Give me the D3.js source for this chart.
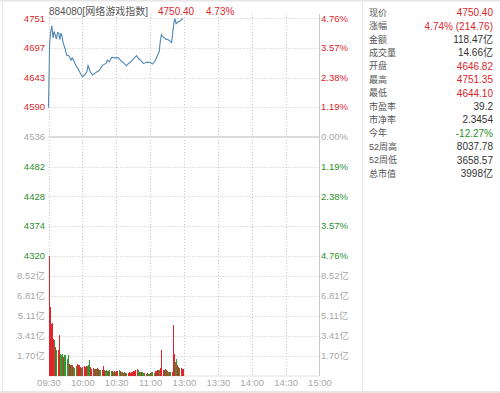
<!DOCTYPE html>
<html><head><meta charset="utf-8">
<script src="https://cdn.jsdelivr.net/npm/d3@7/dist/d3.min.js"></script>
<style>body{margin:0;background:#fff;}svg{display:block;font-family:"Liberation Sans","Noto Sans CJK SC",sans-serif;}</style>
</head><body>
<svg id="c" width="500" height="393"></svg>
<script>
const prevClose = 4535.64;
const priceHalfRange = 215.71;
const priceMinutes = [0,1,2,3,4,5,7,8,9,10,11,12,13,15,16,18,19,20,21,23,24,26,28,30,32,34,35,37,39,41,43,45,47,48,51,52,54,56,59,62,65,67,69,71,73,75,78,80,82,84,87,90,92,94,96,98,99,100,101,104,106,108,109,110,111,112,113,115,116,119];
const priceValues = [4589,4706,4727,4737,4715,4727,4713,4725,4724,4712,4724,4718,4706,4694,4684,4683,4679,4675,4679,4671,4666,4660,4652,4645,4648,4654,4665,4654,4648,4651,4654,4656,4663,4666,4669,4675,4672,4680,4679,4679,4672,4669,4665,4669,4672,4677,4683,4677,4674,4669,4671,4671,4668,4672,4681,4690,4709,4721,4718,4713,4712,4709,4707,4724,4742,4750,4741,4745,4745,4750.4];
const volumes = [10.2,5.9,4.4,4.5,3.15,3.0,2.4,2.2,2.2,3.5,1.86,1.72,1.8,1.57,1.72,1.72,1.43,1.72,1.0,0.92,0.86,0.86,0.71,0.66,0.8,1.0,0.86,0.86,0.71,0.66,0.7,0.77,0.71,0.77,0.77,0.86,1.29,0.71,0.57,0.66,0.57,0.57,0.57,0.66,0.57,0.49,0.45,0.43,0.77,0.49,0.37,0.43,0.37,0.4,0.49,0.4,0.37,0.31,0.37,0.31,0.37,0.4,0.49,0.37,0.31,0.26,0.2,0.26,0.2,0.2,0.2,0.26,0.2,0.26,0.31,0.35,0.37,0.43,0.54,0.43,0.31,0.26,0.26,0.26,0.2,0.2,0.14,0.2,0.14,0.17,0.2,0.31,0.26,0.2,0.37,0.4,0.43,0.43,0.49,0.6,2.2,0.5,0.43,0.54,0.43,0.37,0.26,0.31,0.26,0.3,4.3,1.86,1.14,1.43,0.86,0.71,0.66,0.66,0.57,0.57];
const volumeDirs = "rrrrrgrgrrgggrggggrrgrgggrrrrgrrrrgggrrrgrgrrggrrrgggrggrgrgrrgrggrgrgrrrrrrrrrgggrggrgrggrgggrrrrgrrrrgrggrgrrrggrrgrrr".split("");
const priceTicks = ["4751","4697","4643","4590","4536","4482","4428","4374","4320"];
const pctTicks = ["4.76%","3.57%","2.38%","1.19%","0.00%","1.19%","2.38%","3.57%","4.76%"];
const volTicks = [1.70,3.41,5.11,6.81,8.52];
const volMax = 10.22;
const timeTicks = [0,30,60,90,120,150,180,210,240];
const timeLabels = ["09:30","10:00","10:30","11:00","13:00","13:30","14:00","14:30","15:00"];
const titleParts = ["884080[网络游戏指数]","4750.40","4.73%"];
const infoLabels = ["现价","涨幅","金额","成交量","开盘","最高","最低","市盈率","市净率","今年","52周高","52周低","总市值"];
const infoValues = ["4750.40","4.74% (214.76)","118.47亿","14.66亿","4646.82","4751.35","4644.10","39.2","2.3454","-12.27%","8037.78","3658.57","3998亿"];
const infoTone = ["u","u","n","n","u","u","u","n","n","d","n","n","n"];

const RED="#d8262c", GREEN="#2c8f2c", GRAY="#a8a8a8", DARK="#333";
const svg = d3.select("#c");
const L=48.5, R=319.5;
const x = d3.scaleLinear().domain([0,240]).range([L,R]);
const y = d3.scaleLinear().domain([prevClose-priceHalfRange, prevClose+priceHalfRange]).range([256,18]);
const yv = d3.scaleLinear().domain([0,volMax]).range([375.5,256]);

// frame
svg.append("rect").attr("x",0).attr("y",0).attr("width",500).attr("height",393).attr("fill","#fff");
svg.append("line").attr("x1",0).attr("x2",500).attr("y1",0.5).attr("y2",0.5).attr("stroke","#e6e6e6").attr("stroke-width",2);
svg.append("line").attr("x1",2.5).attr("x2",2.5).attr("y1",0).attr("y2",393).attr("stroke","#e6e6e6");
svg.append("line").attr("x1",362.5).attr("x2",362.5).attr("y1",0).attr("y2",393).attr("stroke","#e6e6e6");
svg.append("line").attr("x1",0).attr("x2",500).attr("y1",392).attr("y2",392).attr("stroke","#e6e6e6").attr("stroke-width",2);

const grid = svg.append("g").attr("stroke","#c8c8c8").attr("stroke-dasharray","1,2").attr("stroke-width",1);
priceTicks.forEach((t,i)=>{
  if(i===4) return;
  const yy = Math.round(y(+t))+0.5;
  grid.append("line").attr("x1",L).attr("x2",R).attr("y1",yy).attr("y2",yy);
});
volTicks.forEach(t=>{
  const yy = Math.round(yv(t))+0.5;
  grid.append("line").attr("x1",L).attr("x2",R).attr("y1",yy).attr("y2",yy);
});
timeTicks.forEach((t,i)=>{
  if(i===timeTicks.length-1) return;
  const xx = Math.round(x(t))+0.5;
  grid.append("line").attr("x1",xx).attr("x2",xx).attr("y1",14).attr("y2",376);
});
svg.append("line").attr("x1",R).attr("x2",R).attr("y1",14).attr("y2",376).attr("stroke","#c8c8c8");
svg.append("line").attr("x1",L).attr("x2",R).attr("y1",376).attr("y2",376).attr("stroke","#e0e0e0");
const y0 = y(prevClose);
svg.append("line").attr("x1",L).attr("x2",R).attr("y1",y0).attr("y2",y0).attr("stroke","#dcdcdc").attr("stroke-width",2);

// volume bars
svg.append("g").attr("shape-rendering","crispEdges").selectAll("rect").data(volumes).join("rect")
  .attr("x",(d,i)=>x(i)).attr("width",1.0)
  .attr("y",d=>yv(d)).attr("height",d=>yv(0)-yv(d))
  .attr("fill",(d,i)=>volumeDirs[i]==="g"?"#2f9a2f":"#e0262c");

// price line
const pts = priceMinutes.map((m,i)=>[m,priceValues[i]]);
svg.append("path").datum(pts).attr("fill","none").attr("stroke","#4f87b5").attr("stroke-width",1.1)
  .attr("d",d3.line().x(d=>x(d[0])).y(d=>y(d[1])));

// axis labels
const lab = svg.append("g").attr("font-size",9.5);
priceTicks.forEach((t,i)=>{
  const col = i<4?RED:(i===4?GRAY:GREEN);
  const yy = y(+t);
  lab.append("text").attr("x",45).attr("y",yy).attr("dy","0.35em").attr("text-anchor","end").attr("fill",col).text(t);
  lab.append("text").attr("x",321).attr("y",yy).attr("dy","0.35em").attr("fill",col).text(pctTicks[i]);
});
volTicks.forEach(t=>{
  const yy = yv(t);
  const s = t.toFixed(2)+"亿";
  lab.append("text").attr("x",45).attr("y",yy).attr("dy","0.35em").attr("text-anchor","end").attr("fill",GRAY).text(s);
  lab.append("text").attr("x",321).attr("y",yy).attr("dy","0.35em").attr("fill",GRAY).text(s);
});
const xAxis = d3.axisBottom(x).tickValues(timeTicks).tickFormat((d,i)=>timeLabels[i]).tickSize(0).tickPadding(0);
const gx = svg.append("g").attr("transform","translate(0,379)").call(xAxis);
gx.select(".domain").remove();
gx.selectAll("text").attr("fill",GRAY).attr("font-size",9.5).attr("font-family","\"Liberation Sans\",sans-serif").attr("dy","0.71em");

// title
const tt = svg.append("g").attr("font-size",10);
tt.append("text").attr("x",49).attr("y",11).attr("dy","0.35em").attr("fill","#555").text(titleParts[0]);
tt.append("text").attr("x",158).attr("y",11).attr("dy","0.35em").attr("fill",RED).text(titleParts[1]);
tt.append("text").attr("x",206).attr("y",11).attr("dy","0.35em").attr("fill",RED).text(titleParts[2]);

// info panel
const ip = svg.append("g");
infoLabels.forEach((l,i)=>{
  const yy = 12.7 + 13.4*i;
  ip.append("text").attr("x",369).attr("y",yy).attr("dy","0.35em").attr("font-size",9).attr("fill","#555").text(l);
  const col = infoTone[i]==="u"?RED:(infoTone[i]==="d"?GREEN:DARK);
  ip.append("text").attr("x",493).attr("y",yy).attr("dy","0.35em").attr("font-size",10).attr("text-anchor","end").attr("fill",col).text(infoValues[i]);
});
</script>
</body></html>
